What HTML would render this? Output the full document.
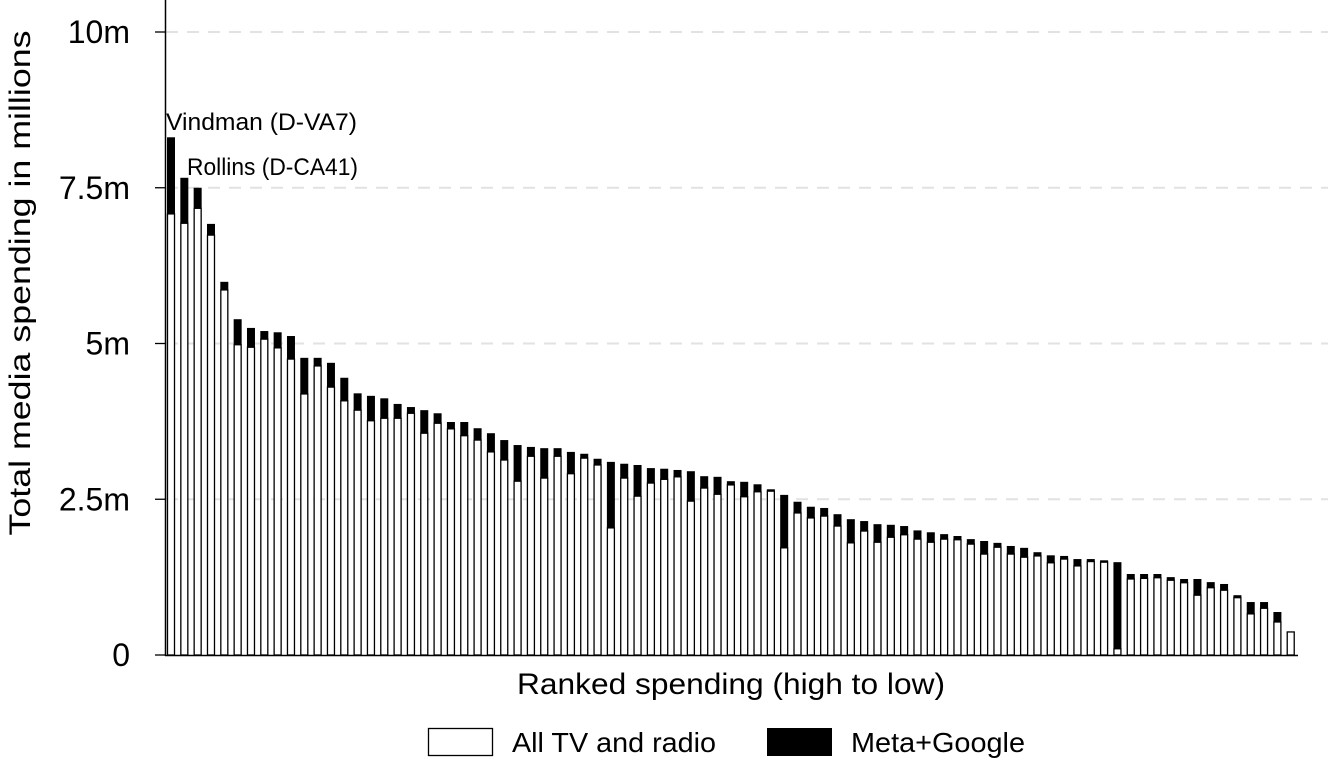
<!DOCTYPE html>
<html><head><meta charset="utf-8">
<style>
body{margin:0;background:#fff;}
svg{display:block;font-family:"Liberation Sans",Arial,sans-serif;}
</style></head>
<body>
<svg id="chart" width="1328" height="762" viewBox="0 0 1328 762" xmlns="http://www.w3.org/2000/svg">
<g id="grid"></g>
<g id="bars"></g>
<g id="axes"></g>
<text x="166" y="130" font-size="24" textLength="191" lengthAdjust="spacingAndGlyphs">Vindman (D-VA7)</text>
<text x="187" y="175" font-size="24" textLength="171" lengthAdjust="spacingAndGlyphs">Rollins (D-CA41)</text>
<text transform="translate(30,283) rotate(-90)" text-anchor="middle" font-size="30" textLength="505" lengthAdjust="spacingAndGlyphs">Total media spending in millions</text>
<text x="731" y="694" text-anchor="middle" font-size="30" textLength="428" lengthAdjust="spacingAndGlyphs">Ranked spending (high to low)</text>
<g>
<rect x="428.5" y="728.5" width="64" height="27" fill="#fff" stroke="#000" stroke-width="1.3"/>
<text x="512" y="752" font-size="28" textLength="204" lengthAdjust="spacingAndGlyphs">All TV and radio</text>
<rect x="767" y="728" width="65" height="28" fill="#000"/>
<text x="851" y="752" font-size="28" textLength="174" lengthAdjust="spacingAndGlyphs">Meta+Google</text>
</g>
</svg>
<script>
const tvRadio=[7.08,6.93,7.17,6.74,5.86,4.98,4.94,5.07,4.93,4.75,4.19,4.64,4.30,4.08,3.93,3.76,3.80,3.80,3.88,3.56,3.72,3.63,3.52,3.45,3.26,3.13,2.79,3.19,2.84,3.19,2.91,3.16,3.05,2.04,2.84,2.55,2.76,2.82,2.86,2.47,2.68,2.58,2.73,2.54,2.62,2.63,1.72,2.28,2.20,2.23,2.07,1.80,1.99,1.81,1.89,1.93,1.86,1.81,1.86,1.85,1.78,1.62,1.73,1.62,1.57,1.59,1.48,1.54,1.43,1.50,1.49,0.10,1.22,1.23,1.24,1.20,1.16,0.96,1.08,1.04,0.92,0.66,0.75,0.53,0.37];
const totals=[8.31,7.66,7.50,6.92,5.99,5.39,5.25,5.20,5.18,5.12,4.77,4.77,4.69,4.45,4.20,4.16,4.12,4.03,3.98,3.93,3.88,3.74,3.74,3.64,3.56,3.45,3.37,3.34,3.32,3.32,3.26,3.23,3.15,3.10,3.07,3.05,3.00,2.99,2.97,2.95,2.87,2.86,2.79,2.78,2.74,2.66,2.57,2.46,2.38,2.36,2.26,2.18,2.15,2.10,2.09,2.07,2.00,1.97,1.94,1.91,1.86,1.83,1.80,1.75,1.72,1.65,1.60,1.59,1.54,1.54,1.52,1.49,1.30,1.30,1.30,1.25,1.22,1.22,1.17,1.14,0.96,0.85,0.85,0.69,0.37];
const yTicks=[0,2.5,5,7.5,10];
const yTickLabels=["0","2.5m","5m","7.5m","10m"];
const NS="http://www.w3.org/2000/svg";
const y0=655, pxPer=62.3;
function yScale(v){return y0-v*pxPer;}
function xScale(i){return 167+i*13.33;}
const grid=document.getElementById('grid'), axes=document.getElementById('axes'), bars=document.getElementById('bars');
function mk(tag,attrs,parent){const e=document.createElementNS(NS,tag);for(const k in attrs)e.setAttribute(k,attrs[k]);parent.appendChild(e);return e;}
yTicks.forEach((t,i)=>{
  const y=yScale(t);
  if(t>0){const g=mk('line',{x1:166,x2:1328,y1:y,y2:y,stroke:'#e2e2e2','stroke-width':2,'stroke-dasharray':'12,9'},grid);
  
  }
  const tk=mk('line',{x1:155,x2:165,y1:y,y2:y,stroke:'#000','stroke-width':1.3},axes);
  
  
  const tx=mk('text',{x:130,y:y+11,'text-anchor':'end','font-size':32},axes);
  tx.textContent=yTickLabels[i];
  
  
});
totals.forEach((tot,i)=>{
  const x=xScale(i), w=8;
  const tv=tvRadio[i];
  const r=mk('rect',{x:x+0.5,y:yScale(tv),width:w-1,height:y0-yScale(tv),fill:'#fff',stroke:'#000','stroke-width':1.3},bars);
  
  
  const m=tot-tv;
  if(m>0.005){const b=mk('rect',{x:x,y:yScale(tot),width:w,height:m*pxPer,fill:'#000'},bars);
  
  }
});
const ya=mk('line',{x1:165.5,x2:165.5,y1:0,y2:656,stroke:'#000','stroke-width':1.5},axes);


const xa=mk('line',{x1:165,x2:1298,y1:655.5,y2:655.5,stroke:'#000','stroke-width':1.5},axes);


</script>
</body></html>
